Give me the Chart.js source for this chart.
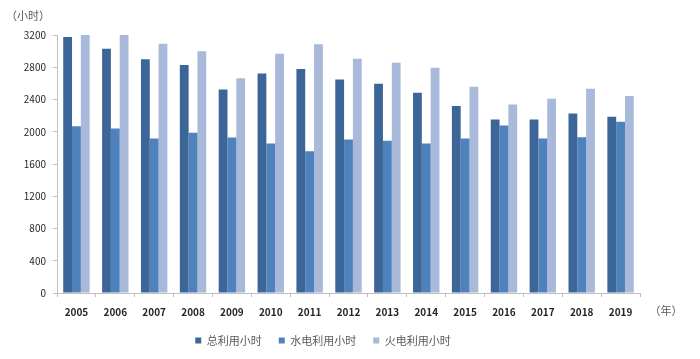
<!DOCTYPE html>
<html>
<head>
<meta charset="utf-8">
<script src="https://cdn.jsdelivr.net/npm/chart.js@4/dist/chart.umd.min.js"></script>
<style>
  html, body { margin: 0; padding: 0; background: #ffffff; }
  #wrap { width: 700px; height: 359px; position: relative; }
</style>
</head>
<body>
<div id="wrap"><canvas id="c" width="700" height="359"></canvas></div>
<script>
const years = ['2005','2006','2007','2008','2009','2010','2011','2012','2013','2014','2015','2016','2017','2018','2019'];
const totalHours = [3175, 3030, 2898, 2827, 2525, 2724, 2777, 2649, 2596, 2484, 2318, 2152, 2152, 2227, 2186];
const hydroHours = [2069, 2041, 1916, 1987, 1929, 1854, 1759, 1904, 1888, 1854, 1916, 2078, 1916, 1933, 2124];
const thermalHours = [3200, 3200, 3093, 2997, 2665, 2968, 3084, 2906, 2857, 2795, 2559, 2339, 2409, 2534, 2442];
const seriesNames = ['总利用小时', '水电利用小时', '火电利用小时'];
const yTicks = [0, 400, 800, 1200, 1600, 2000, 2400, 2800, 3200];
const yUnit = '（小时）';
const xUnit = '（年）';

const FONT = '"Noto Sans CJK SC", "Noto Sans", sans-serif';

const unitLabels = {
  id: 'unitLabels',
  afterDraw(chart) {
    const ctx = chart.ctx;
    ctx.save();
    ctx.font = '11px ' + FONT;
    ctx.fillStyle = '#595959';
    ctx.textAlign = 'center';
    ctx.textBaseline = 'middle';
    ctx.fillText(yUnit, 28, 16);
    const xs = chart.scales.x;
    ctx.fillText(xUnit, 666, xs.top + 18);
    ctx.restore();
  }
};

new Chart(document.getElementById('c'), {
  type: 'bar',
  data: {
    labels: years,
    datasets: [
      { label: seriesNames[0], data: totalHours, backgroundColor: '#3D6698' },
      { label: seriesNames[1], data: hydroHours, backgroundColor: '#4F81BD' },
      { label: seriesNames[2], data: thermalHours, backgroundColor: '#A9B9D9' }
    ]
  },
  options: {
    responsive: false,
    animation: false,
    devicePixelRatio: 1,
    layout: { padding: { left: 6, right: 60, top: 35, bottom: 3 } },
    datasets: { bar: { categoryPercentage: 0.68, barPercentage: 1.0, borderWidth: 0 } },
    scales: {
      x: {
        grid: { display: true, drawOnChartArea: false, drawTicks: true, tickLength: 4, color: '#BFBFBF', offset: true },
        border: { display: true, color: '#BFBFBF' },
        ticks: { color: '#262626', font: { family: FONT, size: 10, weight: 'bold' }, padding: 9, maxRotation: 0 },
        afterFit(scale) { scale.height = 25; }
      },
      y: {
        min: 0, max: 3200,
        afterBuildTicks(scale) { scale.ticks = yTicks.map(v => ({ value: v })); },
        grid: { display: true, drawOnChartArea: false, drawTicks: true, tickLength: 4, color: '#BFBFBF' },
        border: { display: true, color: '#BFBFBF' },
        ticks: { color: '#262626', font: { family: FONT, size: 10 }, padding: 7, callback: (v) => String(v) },
        afterFit(scale) { scale.width = 51; }
      }
    },
    plugins: {
      legend: {
        position: 'bottom',
        labels: {
          boxWidth: 6, boxHeight: 6, padding: 17,
          color: '#595959',
          font: { family: FONT, size: 11 }
        }
      },
      tooltip: { enabled: false }
    }
  },
  plugins: [unitLabels]
});
</script>
</body>
</html>
